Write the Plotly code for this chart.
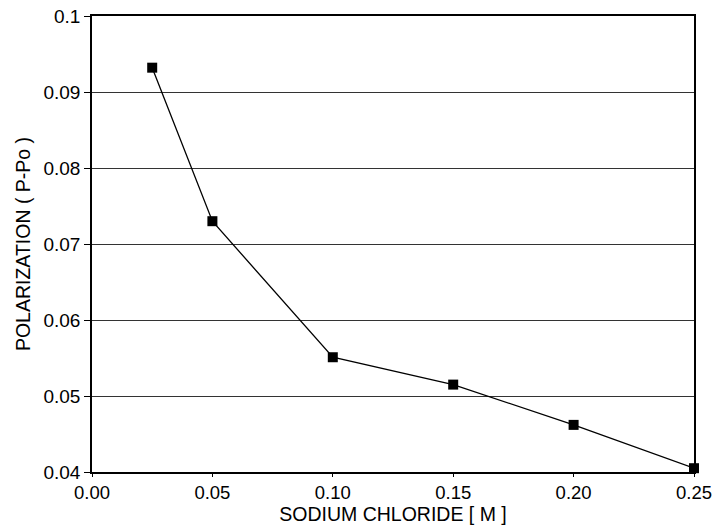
import plotly.graph_objects as go

nacl = [0.025, 0.05, 0.10, 0.15, 0.20, 0.25]
polarization = [0.0932, 0.0730, 0.0551, 0.0515, 0.0462, 0.0405]
x_ticks = [0.00, 0.05, 0.10, 0.15, 0.20, 0.25]
x_labels = ["0.00", "0.05", "0.10", "0.15", "0.20", "0.25"]
y_ticks = [0.04, 0.05, 0.06, 0.07, 0.08, 0.09, 0.1]
y_labels = ["0.04", "0.05", "0.06", "0.07", "0.08", "0.09", "0.1"]

fig = go.Figure()
fig.add_trace(go.Scatter(
    x=nacl, y=polarization, mode="lines+markers",
    line=dict(color="black", width=1.3),
    marker=dict(symbol="square", size=10, color="black"),
    cliponaxis=False, showlegend=False,
))

font = dict(family="Liberation Sans, Arial, sans-serif", color="black")
fig.update_layout(
    width=716, height=525,
    margin=dict(l=92, r=22, t=16, b=53, autoexpand=False),
    paper_bgcolor="white", plot_bgcolor="white",
    font=font,
    xaxis=dict(
        range=[0, 0.25], tickvals=x_ticks, ticktext=x_labels,
        ticks="outside", ticklen=3, tickwidth=1, tickcolor="black",
        showline=True, linecolor="black", linewidth=1.5, mirror=True,
        showgrid=False, zeroline=False, automargin=False,
        tickfont=dict(size=18.5, **font),
        title=dict(text="SODIUM CHLORIDE [ M ]", font=dict(size=19.5, **font), standoff=6),
    ),
    yaxis=dict(
        range=[0.04, 0.1], tickvals=y_ticks, ticktext=y_labels,
        ticks="outside", ticklen=6, tickwidth=1, tickcolor="black",
        showline=True, linecolor="black", linewidth=1.5, mirror=True,
        showgrid=True, gridcolor="#333333", gridwidth=1, zeroline=False,
        automargin=False,
        tickfont=dict(size=19, **font),
        title=dict(text="POLARIZATION ( P-Po )", font=dict(size=19.5, **font), standoff=8),
    ),
)
fig.write_html("out.html")
